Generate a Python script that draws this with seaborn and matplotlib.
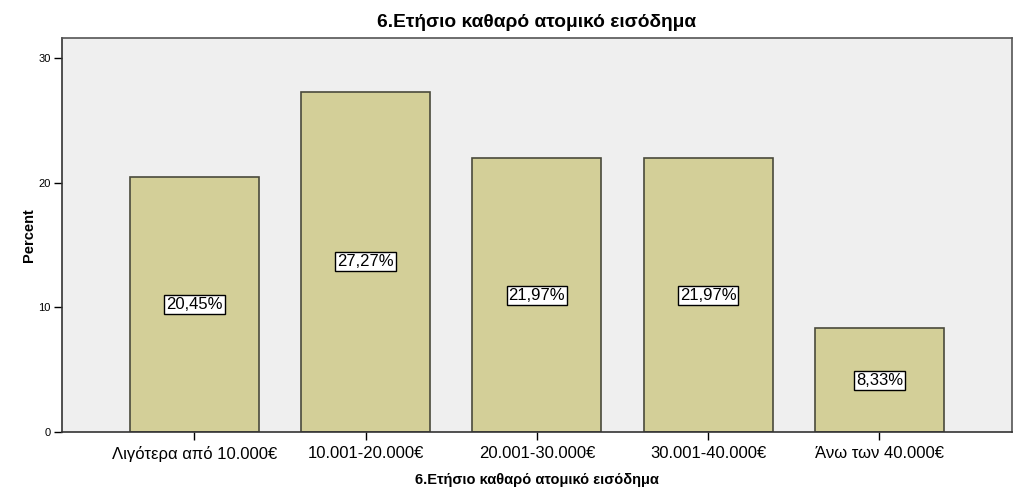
import matplotlib
matplotlib.use("Agg")
import matplotlib.pyplot as plt
import seaborn as sns
import pandas as pd

categories = ["Λιγότερα από 10.000€", "10.001-20.000€", "20.001-30.000€", "30.001-40.000€", "Άνω των 40.000€"]
percents = [20.45, 27.27, 21.97, 21.97, 8.33]
labels = ["20,45%", "27,27%", "21,97%", "21,97%", "8,33%"]
yticks = [0, 10, 20, 30]

sns.set_style("white")
plt.rcParams['font.family'] = ['Liberation Sans', 'DejaVu Sans']
plt.rcParams['text.color'] = 'black'
plt.rcParams['axes.labelcolor'] = 'black'

df = pd.DataFrame({"cat": categories, "pct": percents})

fig = plt.figure(figsize=(10.24, 5.01), dpi=100)
ax = fig.add_axes([0.0605, 0.1377, 0.9277, 0.7855])
ax.set_facecolor("#EFEFEF")

sns.barplot(data=df, x="cat", y="pct", ax=ax, color="#D3CF98", saturation=1,
            width=0.753, edgecolor="#4A4A3C", linewidth=1.2)

for i, (v, t) in enumerate(zip(percents, labels)):
    ax.text(i, v / 2, t, ha="center", va="center", fontsize=12, color="black",
            bbox=dict(boxstyle="square,pad=0.12", facecolor="white", edgecolor="black", linewidth=1))

ax.set_xlim(-0.774, 4.774)
ax.set_ylim(0, 31.56)
ax.set_yticks(yticks)
ax.set_yticklabels([str(t) for t in yticks], fontsize=8)
ax.tick_params(axis="y", direction="out", length=6, width=1, pad=2, left=True, colors="black")
ax.tick_params(axis="x", direction="out", length=6, width=1, pad=4, bottom=True, labelsize=12, colors="black")
for s in ax.spines.values():
    s.set_color("#555555")
    s.set_linewidth(1.2)
ax.spines["bottom"].set_color("#333333")
ax.spines["left"].set_color("#333333")

ax.set_xlabel("6.Ετήσιο καθαρό ατομικό εισόδημα", fontsize=10.5, fontweight="bold", labelpad=8)
ax.set_ylabel("Percent", fontsize=10.5, fontweight="bold", labelpad=2)
ax.set_title("6.Ετήσιο καθαρό ατομικό εισόδημα", fontsize=13.8, fontweight="bold", pad=8)

fig.savefig("out.png", dpi=100)
